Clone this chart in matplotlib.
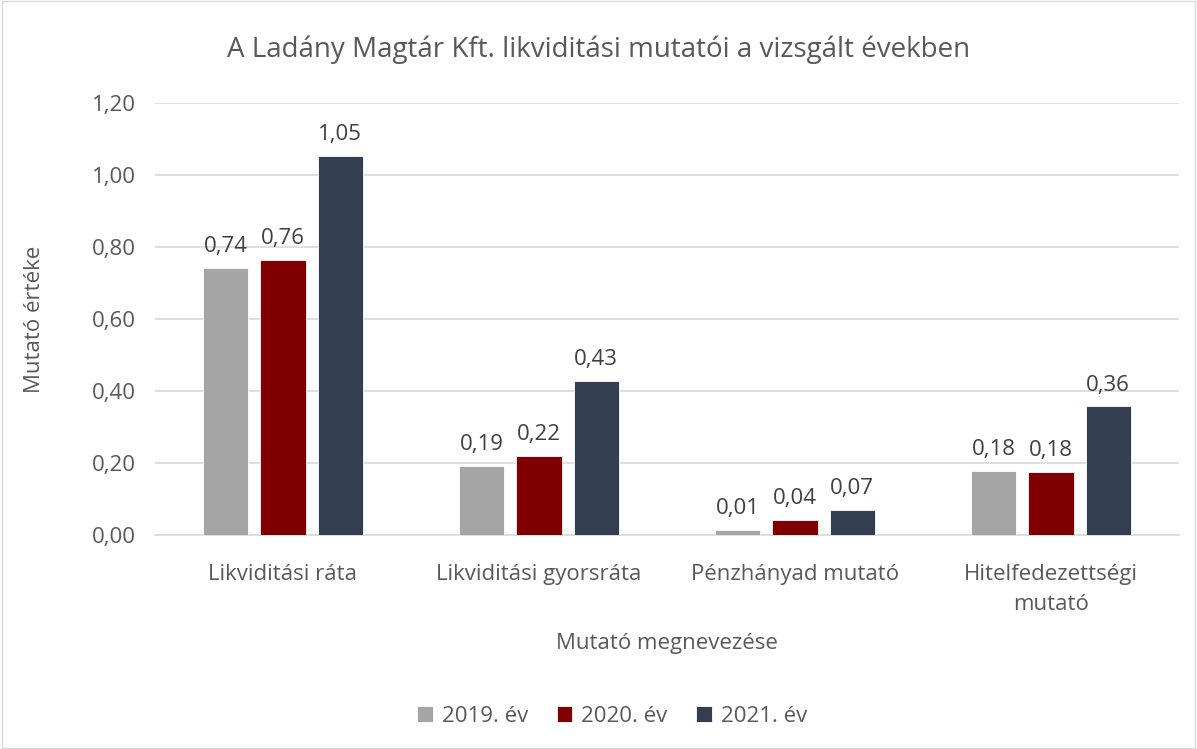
import numpy as np
import matplotlib.pyplot as plt
from matplotlib.patches import Rectangle

plt.rcParams['font.family'] = ['Open Sans', 'DejaVu Sans']

categories = ['Likviditási ráta', 'Likviditási gyorsráta', 'Pénzhányad mutató',
              'Hitelfedezettségi\nmutató']
years = ['2019. év', '2020. év', '2021. év']
v2019 = [0.742, 0.192, 0.014, 0.178]
v2020 = [0.764, 0.219, 0.042, 0.176]
v2021 = [1.053, 0.428, 0.069, 0.357]
labels2019 = ['0,74', '0,19', '0,01', '0,18']
labels2020 = ['0,76', '0,22', '0,04', '0,18']
labels2021 = ['1,05', '0,43', '0,07', '0,36']
colors = ['#A5A5A5', '#800000', '#333F50']

fig = plt.figure(figsize=(11.97, 7.49), dpi=100)
ax = fig.add_axes([155 / 1197, 1 - 535 / 749, 1024 / 1197, 432 / 749])

x = np.arange(len(categories))
width = 0.176
step = 0.223
series = [v2019, v2020, v2021]
labels = [labels2019, labels2020, labels2021]
txt = '#404040'
grey = '#595959'

for i, (vals, lab) in enumerate(zip(series, labels)):
    bars = ax.bar(x + (i - 1) * step, vals, width, color=colors[i],
                  edgecolor='white', linewidth=0.6, label=years[i], zorder=3)
    for b, t in zip(bars, lab):
        ax.text(b.get_x() + b.get_width() / 2, b.get_height() + 0.03, t,
                ha='center', va='bottom', fontsize=16, color=txt)

ax.set_xlim(-0.5, 3.5)
ax.set_ylim(0, 1.2)
ticks = np.arange(0, 1.21, 0.2)
ax.set_yticks(ticks)
ax.set_yticklabels([f'{v:.2f}'.replace('.', ',') for v in ticks],
                   fontsize=16, color=grey)
ax.set_xticks(x)
ax.set_xticklabels(categories, fontsize=16, color=grey, linespacing=1.55)
ax.tick_params(axis='y', length=0, pad=14)
ax.tick_params(axis='x', length=0, pad=21)
ax.grid(axis='y', color='#D9D9D9', linewidth=1.2, zorder=0)
for s in ['top', 'right', 'left']:
    ax.spines[s].set_visible(False)
ax.spines['bottom'].set_color('#D9D9D9')
ax.spines['bottom'].set_linewidth(1.2)

fig.text(0.5, 1 - 50 / 749, 'A Ladány Magtár Kft. likviditási mutatói a vizsgált években',
         ha='center', va='center', fontsize=20, color=grey)
fig.text(35 / 1197, 1 - 319 / 749, 'Mutató értéke', rotation=90,
         ha='center', va='center', fontsize=16, color=grey)
fig.text(667 / 1197, 1 - 643 / 749, 'Mutató megnevezése',
         ha='center', va='center', fontsize=16, color=grey)

fig.legend(loc='center', bbox_to_anchor=(612 / 1197, 1 - 716 / 749), ncol=3, frameon=False,
           fontsize=16, handlelength=0.7, handleheight=0.7, columnspacing=1.3,
           handletextpad=0.4, labelcolor=grey)

fig.patches.append(Rectangle((0.002, 0.002), 0.996, 0.996, transform=fig.transFigure,
                             fill=False, edgecolor='#D9D9D9', linewidth=1))

fig.savefig('out.png', dpi=100)
